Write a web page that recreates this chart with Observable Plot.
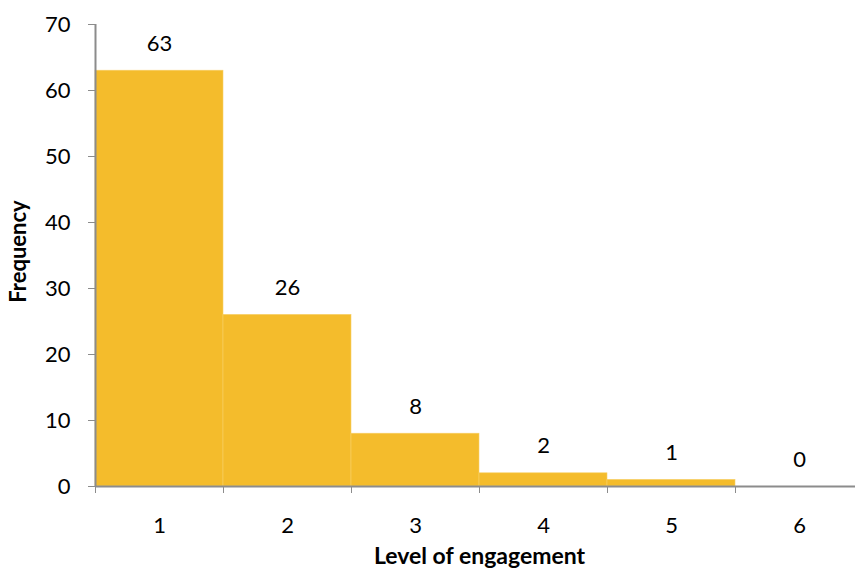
<!DOCTYPE html>
<html>
<head>
<meta charset="utf-8">
<script src="https://cdn.jsdelivr.net/npm/d3@7"></script>
<script src="https://cdn.jsdelivr.net/npm/@observablehq/plot@0.6"></script>
<style>
  body { margin: 0; background: #fff; }
</style>
</head>
<body>
<div id="chart"></div>
<script>
// Histogram of engagement levels
const levels = [1, 2, 3, 4, 5, 6];
const frequency = [63, 26, 8, 2, 1, 0];
const yTicks = [0, 10, 20, 30, 40, 50, 60, 70];
const binEdges = [0.5, 1.5, 2.5, 3.5, 4.5, 5.5, 6.5];

const data = levels.map((level, i) => ({ level, count: frequency[i] }));

const axisGray = "#8c8c8c";
const barColor = "#F4BC2C";

const chart = Plot.plot({
  width: 855,
  height: 572,
  marginTop: 24,
  marginBottom: 86,
  marginLeft: 95,
  marginRight: 0,
  style: { fontFamily: "Lato, 'Open Sans', sans-serif", background: "white", color: "black" },
  x: { domain: [0.5, 6.5], range: [95, 863], axis: null },
  y: { domain: [0, 70], axis: null },
  marks: [
    Plot.rectY(data, {
      x1: d => d.level - 0.5,
      x2: d => d.level + 0.5,
      y: "count",
      fill: barColor,
      stroke: "#f7cf68",
      strokeWidth: 0.6
    }),
    // y axis: line, ticks, labels
    Plot.ruleX([0.5], { y1: 0, y2: 70, stroke: axisGray, strokeWidth: 2 }),
    Plot.axisY({
      ticks: yTicks,
      tickSize: 7,
      tickPadding: 18,
      stroke: axisGray,
      fill: "black",
      fontSize: 22,
      label: null
    }),
    // x axis: baseline, boundary ticks, category labels
    Plot.ruleY([0], { x1: 0.5, x2: 6.5, stroke: axisGray, strokeWidth: 2 }),
    Plot.axisX({
      ticks: binEdges,
      tickSize: 7,
      tickFormat: () => "",
      stroke: axisGray,
      label: null
    }),
    Plot.text(levels, { x: d => d, y: 0, dy: 39, text: d => String(d), fontSize: 22, fill: "black" }),
    // value labels above bars
    Plot.text(data, { x: "level", y: "count", dy: -27, text: d => String(d.count), fontSize: 22, fill: "black" }),
    // axis titles
    Plot.text(["Level of engagement"], { frameAnchor: "bottom", dx: 4, dy: 77, fontSize: 23, fontWeight: "bold", fill: "black" }),
    Plot.text(["Frequency"], { frameAnchor: "left", textAnchor: "middle", dx: -77, dy: -4, rotate: -90, fontSize: 22, fontWeight: "bold", fill: "black" })
  ]
});

document.getElementById("chart").appendChild(chart);
</script>
</body>
</html>
